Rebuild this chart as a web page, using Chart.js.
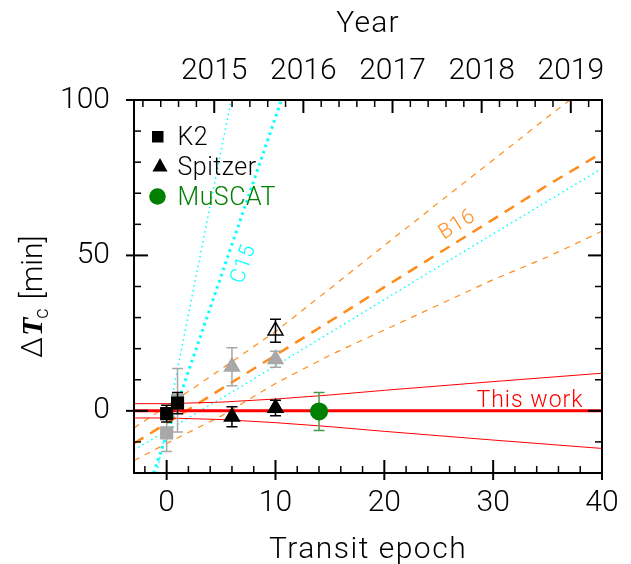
<!DOCTYPE html>
<html>
<head>
<meta charset="utf-8">
<script src="https://cdn.jsdelivr.net/npm/chart.js@4/dist/chart.umd.min.js"></script>
<style>
  html, body { margin: 0; padding: 0; background: #ffffff; }
  canvas { display: block; }
</style>
</head>
<body>
<canvas id="ttv" width="631" height="564"></canvas>
<script>
// ---- measured transit-time offsets (minutes) ----
const k2Epoch = [0, 1];
const k2Dt = [-0.9, 2.5];
const k2Err = [2.7, 3.4];

const k2AltEpoch = [0, 1];
const k2AltDt = [-7.1, 3.4];
const k2AltErr = [6.0, 10.2];

const spitzerEpoch = [6, 10];
const spitzerDt = [-1.9, 0.9];
const spitzerErr = [3.2, 2.5];

const spitzerAltEpoch = [6, 10];
const spitzerAltDt = [14.2, 16.6];
const spitzerAltErr = [6.1, 2.6];

const spitzerOpenEpoch = [10];
const spitzerOpenDt = [25.8];
const spitzerOpenErr = [3.7];

const muscatEpoch = [14];
const muscatDt = [-0.2];
const muscatErr = [6.1];

// ---- ephemeris predictions ----
const fitEpoch = [-3, 0, 5, 10, 15, 20, 30, 40];
const fitCenter = [0, 0, 0, 0, 0, 0, 0, 0];
const fitUpper = [2.3, 2.3, 2.8, 3.8, 5.1, 6.6, 9.4, 12.1];
const fitLower = [-2.3, -2.3, -2.8, -3.8, -5.1, -6.6, -9.4, -12.1];

const b16Epoch = [-3, 0, 5, 10, 15, 20, 25, 30, 35, 40];
const b16Center = [-10.5, -4.0, 7.0, 17.9, 28.8, 39.8, 50.7, 61.6, 72.6, 83.0];
const b16Upper = [-5.5, 1.5, 13.4, 25.5, 39.3, 53.2, 67.0, 80.7, 94.5, 108.0];
const b16Lower = [-16.0, -10.5, -1.7, 8.8, 17.9, 26.0, 34.1, 42.2, 49.5, 57.8];

const c15CenterEpoch = [-1.2, 10.55];
const c15Center = [-20, 100];
const c15UpperEpoch = [-0.9, 2.46, 5.93];
const c15Upper = [-20, 39, 100];
const c15LowerEpoch = [-3, 6.7, 23.3, 40];
const c15Lower = [-12.6, 7.5, 42.8, 78];

// ---- axes ----
const epochTicks = [0, 10, 20, 30, 40];
const yearTicks = [2015, 2016, 2017, 2018, 2019];
const dtTicks = [0, 50, 100];
const epochRange = [-3, 40];
const yearRange = [2014.1, 2019.35];
const dtRange = [-20, 100];

const FONT = 'Roboto';
const ORANGE = '#ff8c1a';
const CYAN = '#00ffff';
const RED = '#ff0000';
const GRAY = '#a8a8a8';
const GREEN = '#008000';

const pts = (xs, ys) => xs.map((x, i) => ({ x, y: ys[i] }));

function lineSet(xs, ys, color, width, dash, order) {
  return {
    type: 'line', data: pts(xs, ys), borderColor: color, borderWidth: width,
    borderDash: dash, pointRadius: 0, fill: false, tension: 0, order,
    borderCapStyle: 'butt'
  };
}
function markerSet(xs, ys, errs, style, fill, stroke, radius, errColor, order) {
  return {
    type: 'scatter', data: pts(xs, ys), errors: errs, errColor,
    pointStyle: style, pointRadius: radius, pointHoverRadius: radius,
    backgroundColor: fill, borderColor: stroke, borderWidth: 1.5, order
  };
}

const datasets = [
  markerSet(muscatEpoch, muscatDt, muscatErr, 'circle', GREEN, GREEN, 8.3, '#4a9a4a', 1),
  markerSet(spitzerEpoch, spitzerDt, spitzerErr, 'triangle', '#000', '#000', 8.6, '#000', 2),
  markerSet(k2Epoch, k2Dt, k2Err, 'rect', '#000', '#000', 8.2, '#000', 3),
  markerSet(spitzerOpenEpoch, spitzerOpenDt, spitzerOpenErr, 'triangle', 'rgba(0,0,0,0)', '#000', 8.6, '#000', 4),
  markerSet(spitzerAltEpoch, spitzerAltDt, spitzerAltErr, 'triangle', GRAY, GRAY, 8.6, GRAY, 5),
  markerSet(k2AltEpoch, k2AltDt, k2AltErr, 'rect', GRAY, GRAY, 8.2, GRAY, 6),
  lineSet(fitEpoch, fitCenter, RED, 3, [], 10),
  lineSet(fitEpoch, fitUpper, RED, 1, [], 11),
  lineSet(fitEpoch, fitLower, RED, 1, [], 11),
  lineSet(b16Epoch, b16Center, ORANGE, 2.5, [11, 8], 12),
  lineSet(b16Epoch, b16Upper, ORANGE, 1.2, [6, 6], 13),
  lineSet(b16Epoch, b16Lower, ORANGE, 1.2, [6, 6], 13),
  lineSet(c15CenterEpoch, c15Center, CYAN, 3, [2.5, 4], 14),
  lineSet(c15UpperEpoch, c15Upper, CYAN, 1.5, [1.5, 3.5], 15),
  lineSet(c15LowerEpoch, c15Lower, CYAN, 1.5, [1.5, 3.5], 15)
];

// error bars drawn just before each marker set
const errorBars = {
  id: 'errorBars',
  beforeDatasetDraw(chart, args) {
    const ds = chart.data.datasets[args.index];
    if (!ds.errors) return;
    const ctx = chart.ctx, ys = chart.scales.y;
    ctx.save();
    ctx.strokeStyle = ds.errColor;
    ctx.lineWidth = 1.5;
    args.meta.data.forEach((el, i) => {
      const v = ds.data[i].y, e = ds.errors[i];
      const x = el.x;
      const t = ys.getPixelForValue(v + e), b = ys.getPixelForValue(v - e);
      ctx.beginPath();
      ctx.moveTo(x, t); ctx.lineTo(x, b);
      ctx.moveTo(x - 5.5, t); ctx.lineTo(x + 5.5, t);
      ctx.moveTo(x - 5.5, b); ctx.lineTo(x + 5.5, b);
      ctx.stroke();
    });
    ctx.restore();
  }
};

// frame with inward tick marks on all four sides
const frameTicks = {
  id: 'frameTicks',
  afterDraw(chart) {
    const { ctx, chartArea: a, scales } = chart;
    const seg = (x1, y1, x2, y2, w) => {
      ctx.lineWidth = w;
      ctx.beginPath(); ctx.moveTo(x1, y1); ctx.lineTo(x2, y2); ctx.stroke();
    };
    ctx.save();
    ctx.strokeStyle = '#000';
    ctx.lineCap = 'butt';
    // bottom: epochs
    for (let v = -2; v <= 40; v += 2) {
      const px = scales.x.getPixelForValue(v);
      if (epochTicks.includes(v)) seg(px, a.bottom - 13, px, a.bottom + 7, 2);
      else seg(px, a.bottom - 7, px, a.bottom, 1.5);
    }
    // top: years
    for (let i = 1; i < 40; i++) {
      const v = 2014 + i * 0.2;
      if (v < yearRange[0] || v > yearRange[1]) continue;
      const px = scales.xTop.getPixelForValue(v);
      const major = Math.abs(v - Math.round(v)) < 1e-6;
      seg(px, a.top, px, a.top + (major ? 13 : 7), major ? 2 : 1.5);
    }
    // left / right: minutes
    for (let v = -10; v <= 90; v += 10) {
      const py = scales.y.getPixelForValue(v);
      const major = dtTicks.includes(v);
      if (major) seg(a.left - 8, py, a.left + 14, py, 2);
      else seg(a.left, py, a.left + 7, py, 1.5);
      seg(a.right - (major ? 14 : 7), py, a.right, py, major ? 2 : 1.5);
    }
    ctx.lineWidth = 2;
    ctx.strokeRect(a.left, a.top, a.right - a.left, a.bottom - a.top);
    const py100 = scales.y.getPixelForValue(100);
    seg(a.left - 8, py100, a.left, py100, 2);
    ctx.restore();
  }
};

// text annotations: titles, legend, line labels
const annotations = {
  id: 'annotations',
  afterDraw(chart) {
    const { ctx, chartArea: a, scales } = chart;
    const cx = (a.left + a.right) / 2;
    ctx.save();
    ctx.textBaseline = 'alphabetic';

    // axis titles
    ctx.fillStyle = '#000';
    ctx.textAlign = 'center';
    ctx.font = `300 30px ${FONT}`;
    ctx.letterSpacing = '1.5px';
    ctx.fillText('Transit epoch', cx, 558);
    ctx.letterSpacing = '1.2px';
    ctx.fillText('Year', cx, 32);

    // y title: ΔT_c [min]
    ctx.save();
    ctx.translate(42, 358);
    ctx.rotate(-Math.PI / 2);
    ctx.textAlign = 'left';
    ctx.letterSpacing = '0px';
    let x = 0;
    ctx.font = `300 30px ${FONT}`;
    ctx.fillText('\u0394', x, 0); x += ctx.measureText('\u0394').width + 1;
    ctx.font = 'italic bold 30px "Liberation Serif"';
    ctx.fillText('T', x, 0); x += ctx.measureText('T').width - 1;
    ctx.font = `300 20px ${FONT}`;
    ctx.fillText('c', x, 6); x += ctx.measureText('c').width + 9;
    ctx.font = `300 30px ${FONT}`;
    ctx.fillText('[min]', x, 0);
    ctx.restore();

    // legend
    ctx.textAlign = 'left';
    ctx.font = `300 25px ${FONT}`;
    ctx.letterSpacing = '0.5px';
    ctx.fillStyle = '#000';
    ctx.fillRect(152, 131, 11.5, 11.5);
    ctx.fillText('K2', 177.5, 145);
    ctx.beginPath();
    ctx.moveTo(160, 158); ctx.lineTo(167.5, 171.5); ctx.lineTo(152.5, 171.5); ctx.closePath();
    ctx.fill();
    ctx.fillText('Spitzer', 177.5, 174.5);
    ctx.fillStyle = GREEN;
    ctx.beginPath(); ctx.arc(157.5, 196.5, 8.3, 0, Math.PI * 2); ctx.fill();
    ctx.fillText('MuSCAT', 177.5, 205);

    // line labels
    ctx.letterSpacing = '1px';
    ctx.fillStyle = RED;
    ctx.font = `300 23px ${FONT}`;
    ctx.fillText('This work', 476.5, 407);

    ctx.textAlign = 'center';
    ctx.textBaseline = 'middle';
    ctx.font = `300 21px ${FONT}`;
    ctx.save();
    ctx.translate(244, 264);
    ctx.rotate(-71 * Math.PI / 180);
    ctx.fillStyle = CYAN;
    ctx.fillText('C15', 0, 0);
    ctx.restore();
    ctx.save();
    ctx.translate(457.5, 225);
    ctx.rotate(-32 * Math.PI / 180);
    ctx.fillStyle = ORANGE;
    ctx.fillText('B16', 0, 0);
    ctx.restore();
    ctx.restore();
  }
};

const tickFont = { family: FONT, size: 30, weight: 300 };
const fixed = (ticksArr) => (s) => { s.ticks = ticksArr.map(v => ({ value: v })); };

new Chart(document.getElementById('ttv'), {
  data: { datasets },
  options: {
    responsive: false,
    animation: false,
    events: [],
    layout: { padding: 0 },
    plugins: { legend: { display: false }, tooltip: { enabled: false } },
    scales: {
      x: {
        type: 'linear', position: 'bottom', min: epochRange[0], max: epochRange[1],
        afterBuildTicks: fixed(epochTicks),
        afterFit: s => { s.height = 91; },
        grid: { display: false, drawTicks: false }, border: { display: false },
        ticks: { font: tickFont, color: '#000', padding: 12, maxRotation: 0, autoSkip: false }
      },
      xTop: {
        type: 'linear', position: 'top', min: yearRange[0], max: yearRange[1],
        afterBuildTicks: fixed(yearTicks),
        afterFit: s => { s.height = 100; },
        grid: { display: false, drawTicks: false }, border: { display: false },
        ticks: { font: tickFont, color: '#000', padding: 11, maxRotation: 0, autoSkip: false,
                 callback: v => String(v) }
      },
      y: {
        type: 'linear', position: 'left', min: dtRange[0], max: dtRange[1],
        afterBuildTicks: fixed(dtTicks),
        afterFit: s => { s.width = 134; },
        grid: { display: false, drawTicks: false }, border: { display: false },
        ticks: { font: tickFont, color: '#000', padding: 24, autoSkip: false }
      },
      yRight: {
        type: 'linear', position: 'right', min: dtRange[0], max: dtRange[1],
        afterFit: s => { s.width = 29; },
        grid: { display: false, drawTicks: false }, border: { display: false },
        ticks: { display: false }
      }
    }
  },
  plugins: [errorBars, frameTicks, annotations]
});
</script>
</body>
</html>
